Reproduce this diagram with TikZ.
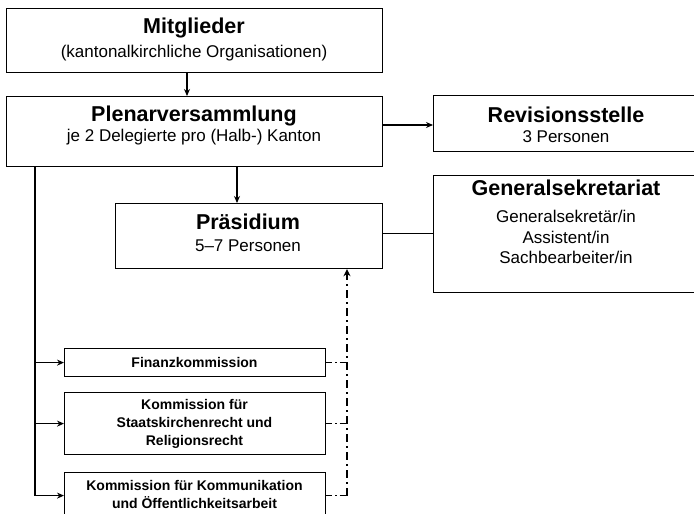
\documentclass[tikz,border=0pt]{standalone}
\usepackage{fontspec}
\setmainfont{Liberation Sans}
\usetikzlibrary{arrows.meta}
\begin{document}
\begin{tikzpicture}[x=1pt,y=-1pt,
  box/.style={draw=black,line width=1.2pt,rectangle,inner sep=0pt,anchor=north west},
  ttl/.style={anchor=base,inner sep=0pt,font=\fontsize{21.5}{24}\selectfont\bfseries},
  sub/.style={anchor=base,inner sep=0pt,font=\fontsize{17}{20}\selectfont},
  ctx/.style={anchor=base,inner sep=0pt,font=\fontsize{14}{17}\selectfont\bfseries},
  arr/.style={line width=1.8pt,-{Stealth[length=7pt,width=6pt]}},
  tree/.style={line width=1.5pt},
  treearr/.style={line width=1.5pt,-{Stealth[length=7pt,width=6pt]}},
  thinline/.style={line width=1pt},
  ddthin/.style={line width=1pt,dash pattern=on 6pt off 3pt on 1.5pt off 3pt},
  ddthick/.style={line width=2pt,dash pattern=on 8pt off 4pt on 2pt off 4pt,-{Stealth[length=7pt,width=7pt]}}
]
\useasboundingbox (0,0) rectangle (694,514);
\clip (0,0) rectangle (694,514);

% boxes
\node[box,minimum width=376pt,minimum height=64pt] (mit) at (6,8) {};
\node[box,minimum width=376pt,minimum height=70pt] (plen) at (6,96) {};
\node[box,minimum width=267pt,minimum height=56pt] (rev) at (433,95) {};
\node[box,minimum width=267pt,minimum height=117pt] (gs) at (433,175) {};
\node[box,minimum width=267pt,minimum height=65pt] (pra) at (115,203) {};
\node[box,minimum width=261pt,minimum height=28pt] (fin) at (64,348) {};
\node[box,minimum width=261pt,minimum height=62pt] (sta) at (64,392) {};
\node[box,minimum width=261pt,minimum height=46pt] (kom) at (64,472) {};

% texts
\node[ttl] (mitT) at (194,34) {Mitglieder};
\node[sub] (mitS) at (194,57) {(kantonalkirchliche Organisationen)};
\node[ttl] (plenT) at (194,121) {Plenarversammlung};
\node[sub] (plenS) at (194,141) {je 2 Delegierte pro (Halb-) Kanton};
\node[ttl] (revT) at (566,122) {Revisionsstelle};
\node[sub] (revS) at (566,142) {3 Personen};
\node[ttl] (gsT) at (566,195) {Generalsekretariat};
\node[sub] (gs1) at (566,222) {Generalsekretär/in};
\node[sub] (gs2) at (566,243) {Assistent/in};
\node[sub] (gs3) at (566,263) {Sachbearbeiter/in};
\node[ttl] (praT) at (248,229) {Präsidium};
\node[sub] (praS) at (248,251) {5–7 Personen};
\node[ctx] (finT) at (194.5,367) {Finanzkommission};
\node[ctx] (sta1) at (194.5,409) {Kommission für};
\node[ctx] (sta2) at (194.5,427) {Staatskirchenrecht und};
\node[ctx] (sta3) at (194.5,445) {Religionsrecht};
\node[ctx] (kom1) at (194.5,490) {Kommission für Kommunikation};
\node[ctx] (kom2) at (194.5,508) {und Öffentlichkeitsarbeit};

% helper coordinates
\coordinate (c1) at (187,0);
\coordinate (c2) at (237,0);
\coordinate (c3) at (0,125);
\coordinate (c4) at (0,233);
\coordinate (tx) at (35,0);
\coordinate (dx) at (347,0);

% connectors
\draw[arr] (c1 |- mit.south) -- (c1 |- plen.north);
\draw[arr] (c2 |- plen.south) -- (c2 |- pra.north);
\draw[arr] (plen.east |- c3) -- (rev.west |- c3);
\draw[thinline] (pra.east |- c4) -- (gs.west |- c4);

\draw[tree] (tx |- plen.south) -- (tx |- kom.west);
\draw[treearr] (tx |- fin.west) -- (fin.west);
\draw[treearr] (tx |- sta.west) -- (sta.west);
\draw[treearr] (tx |- kom.west) -- (kom.west);

\draw[ddthin] (fin.east) -- (dx |- fin.east);
\draw[ddthin] (sta.east) -- (dx |- sta.east);
\draw[ddthin] (kom.east) -- (dx |- kom.east);
\draw[ddthick] (dx |- kom.east) -- (dx |- pra.south);
\end{tikzpicture}
\end{document}
